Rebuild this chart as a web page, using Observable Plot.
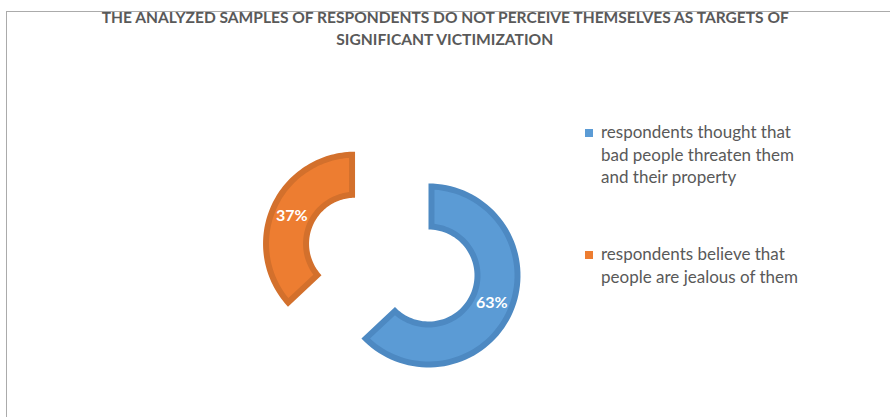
<!DOCTYPE html>
<html>
<head>
<meta charset="utf-8">
<script src="https://cdn.jsdelivr.net/npm/d3@7"></script>
<script src="https://cdn.jsdelivr.net/npm/@observablehq/plot@0.6"></script>
<style>
  html, body { margin: 0; padding: 0; background: #fff; }
  #wrap { position: relative; width: 890px; height: 417px; overflow: hidden; }
  #frame { position: absolute; left: 6px; top: 11px; width: 900px; height: 420px; border-left: 1.5px solid #ABABAB; border-top: 1.5px solid #ABABAB; box-sizing: border-box; }
  #plot { position: absolute; left: 0; top: 0; }
  .title { position: absolute; left: 0; width: 890px; text-align: center; font-family: Lato, "Liberation Sans", sans-serif; font-weight: bold; font-size: 14.5px; color: #595959; white-space: nowrap; }
  .title span { display: inline-block; transform-origin: center; }
  .leg { position: absolute; font-family: Lato, "Open Sans", sans-serif; font-size: 17px; color: #595959; line-height: 22.5px; white-space: nowrap; }
  .sw { position: absolute; width: 8px; height: 8px; }
</style>
</head>
<body>
<div id="wrap">
  <div id="frame"></div>
  <div id="plot"></div>
</div>
<script>
// ---- data ----
const titleLines = ["THE ANALYZED SAMPLES OF RESPONDENTS DO NOT PERCEIVE THEMSELVES AS TARGETS OF", "SIGNIFICANT VICTIMIZATION"];
const categories = ["respondents thought that bad people threaten them and their property", "respondents believe that people are jealous of them"];
const legendLines = [["respondents thought that", "bad people threaten them", "and their property"], ["respondents believe that", "people are jealous of them"]];
const values = [63, 37];
const labels = ["63%", "37%"];
const exploded = [0, 0.87];
const fills = ["#5B9BD5", "#ED7D31"];
const bands = ["#4D89C2", "#D3702C"];

// ---- geometry in unit-circle coordinates ----
const rOuter = 1, rInner = 0.5, band = 0.065;
const total = d3.sum(values);
let acc = 0;
const slices = values.map((v, i) => {
  const a0 = acc / total * 2 * Math.PI; acc += v;
  const a1 = acc / total * 2 * Math.PI;
  const mid = (a0 + a1) / 2;
  const ox = exploded[i] * Math.sin(mid), oy = exploded[i] * Math.cos(mid);
  return {i, a0, a1, mid, ox, oy};
});
function ring(s, ro, ri, inset) {
  const pts = [];
  const N = 80;
  const aoA = s.a0 + inset / ro, aoB = s.a1 - inset / ro;
  const aiA = s.a0 + inset / ri, aiB = s.a1 - inset / ri;
  for (let k = 0; k <= N; k++) { const a = aoA + (aoB - aoA) * k / N; pts.push({x: s.ox + ro * Math.sin(a), y: s.oy + ro * Math.cos(a), s: s.i}); }
  for (let k = N; k >= 0; k--) { const a = aiA + (aiB - aiA) * k / N; pts.push({x: s.ox + ri * Math.sin(a), y: s.oy + ri * Math.cos(a), s: s.i}); }
  pts.push(pts[0]);
  return pts;
}
const outerPts = slices.flatMap(s => ring(s, rOuter, rInner, 0));
const innerPts = slices.flatMap(s => ring(s, rOuter - band, rInner + band, band));
const labelPts = slices.map(s => ({x: s.ox + 0.75 * Math.sin(s.mid), y: s.oy + 0.75 * Math.cos(s.mid), t: labels[s.i]}));

const R = 92, cx = 428, cy = 275;
const chart = Plot.plot({
  width: 890, height: 417,
  margin: 0,
  x: {domain: [-1, 1], range: [cx - R, cx + R], axis: null},
  y: {domain: [-1, 1], range: [cy + R, cy - R], axis: null},
  marks: [
    Plot.line(outerPts, {x: "x", y: "y", z: "s", fill: d => bands[d.s], stroke: "none", curve: "linear"}),
    Plot.line(innerPts, {x: "x", y: "y", z: "s", fill: d => fills[d.s], stroke: "none", curve: "linear"}),
    Plot.text(labelPts, {x: "x", y: "y", text: "t", fill: "white", fontSize: 16, fontWeight: "bold", fontFamily: "Lato, 'Open Sans', sans-serif"})
  ]
});
document.getElementById("plot").appendChild(chart);

// ---- title ----
const wrap = document.getElementById("wrap");
const titleTops = [9, 31];
const titleWidths = [687, 217];
titleLines.forEach((t, i) => {
  const d = document.createElement("div");
  d.className = "title";
  d.style.top = titleTops[i] + "px";
  const sp = document.createElement("span");
  sp.textContent = t;
  d.appendChild(sp);
  wrap.appendChild(d);
  const w = sp.getBoundingClientRect().width;
  sp.style.transform = `scaleX(${titleWidths[i] / w})`;
});

// ---- legend ----
const legTops = [121, 243];
legendLines.forEach((lines, i) => {
  const sw = document.createElement("div");
  sw.className = "sw";
  sw.style.left = "585px"; sw.style.top = (legTops[i] + 8) + "px";
  sw.style.background = fills[i];
  sw.title = categories[i];
  wrap.appendChild(sw);
  const d = document.createElement("div");
  d.className = "leg";
  d.style.left = "601px"; d.style.top = legTops[i] + "px";
  d.innerHTML = lines.join("<br>");
  wrap.appendChild(d);
});
</script>
</body>
</html>
